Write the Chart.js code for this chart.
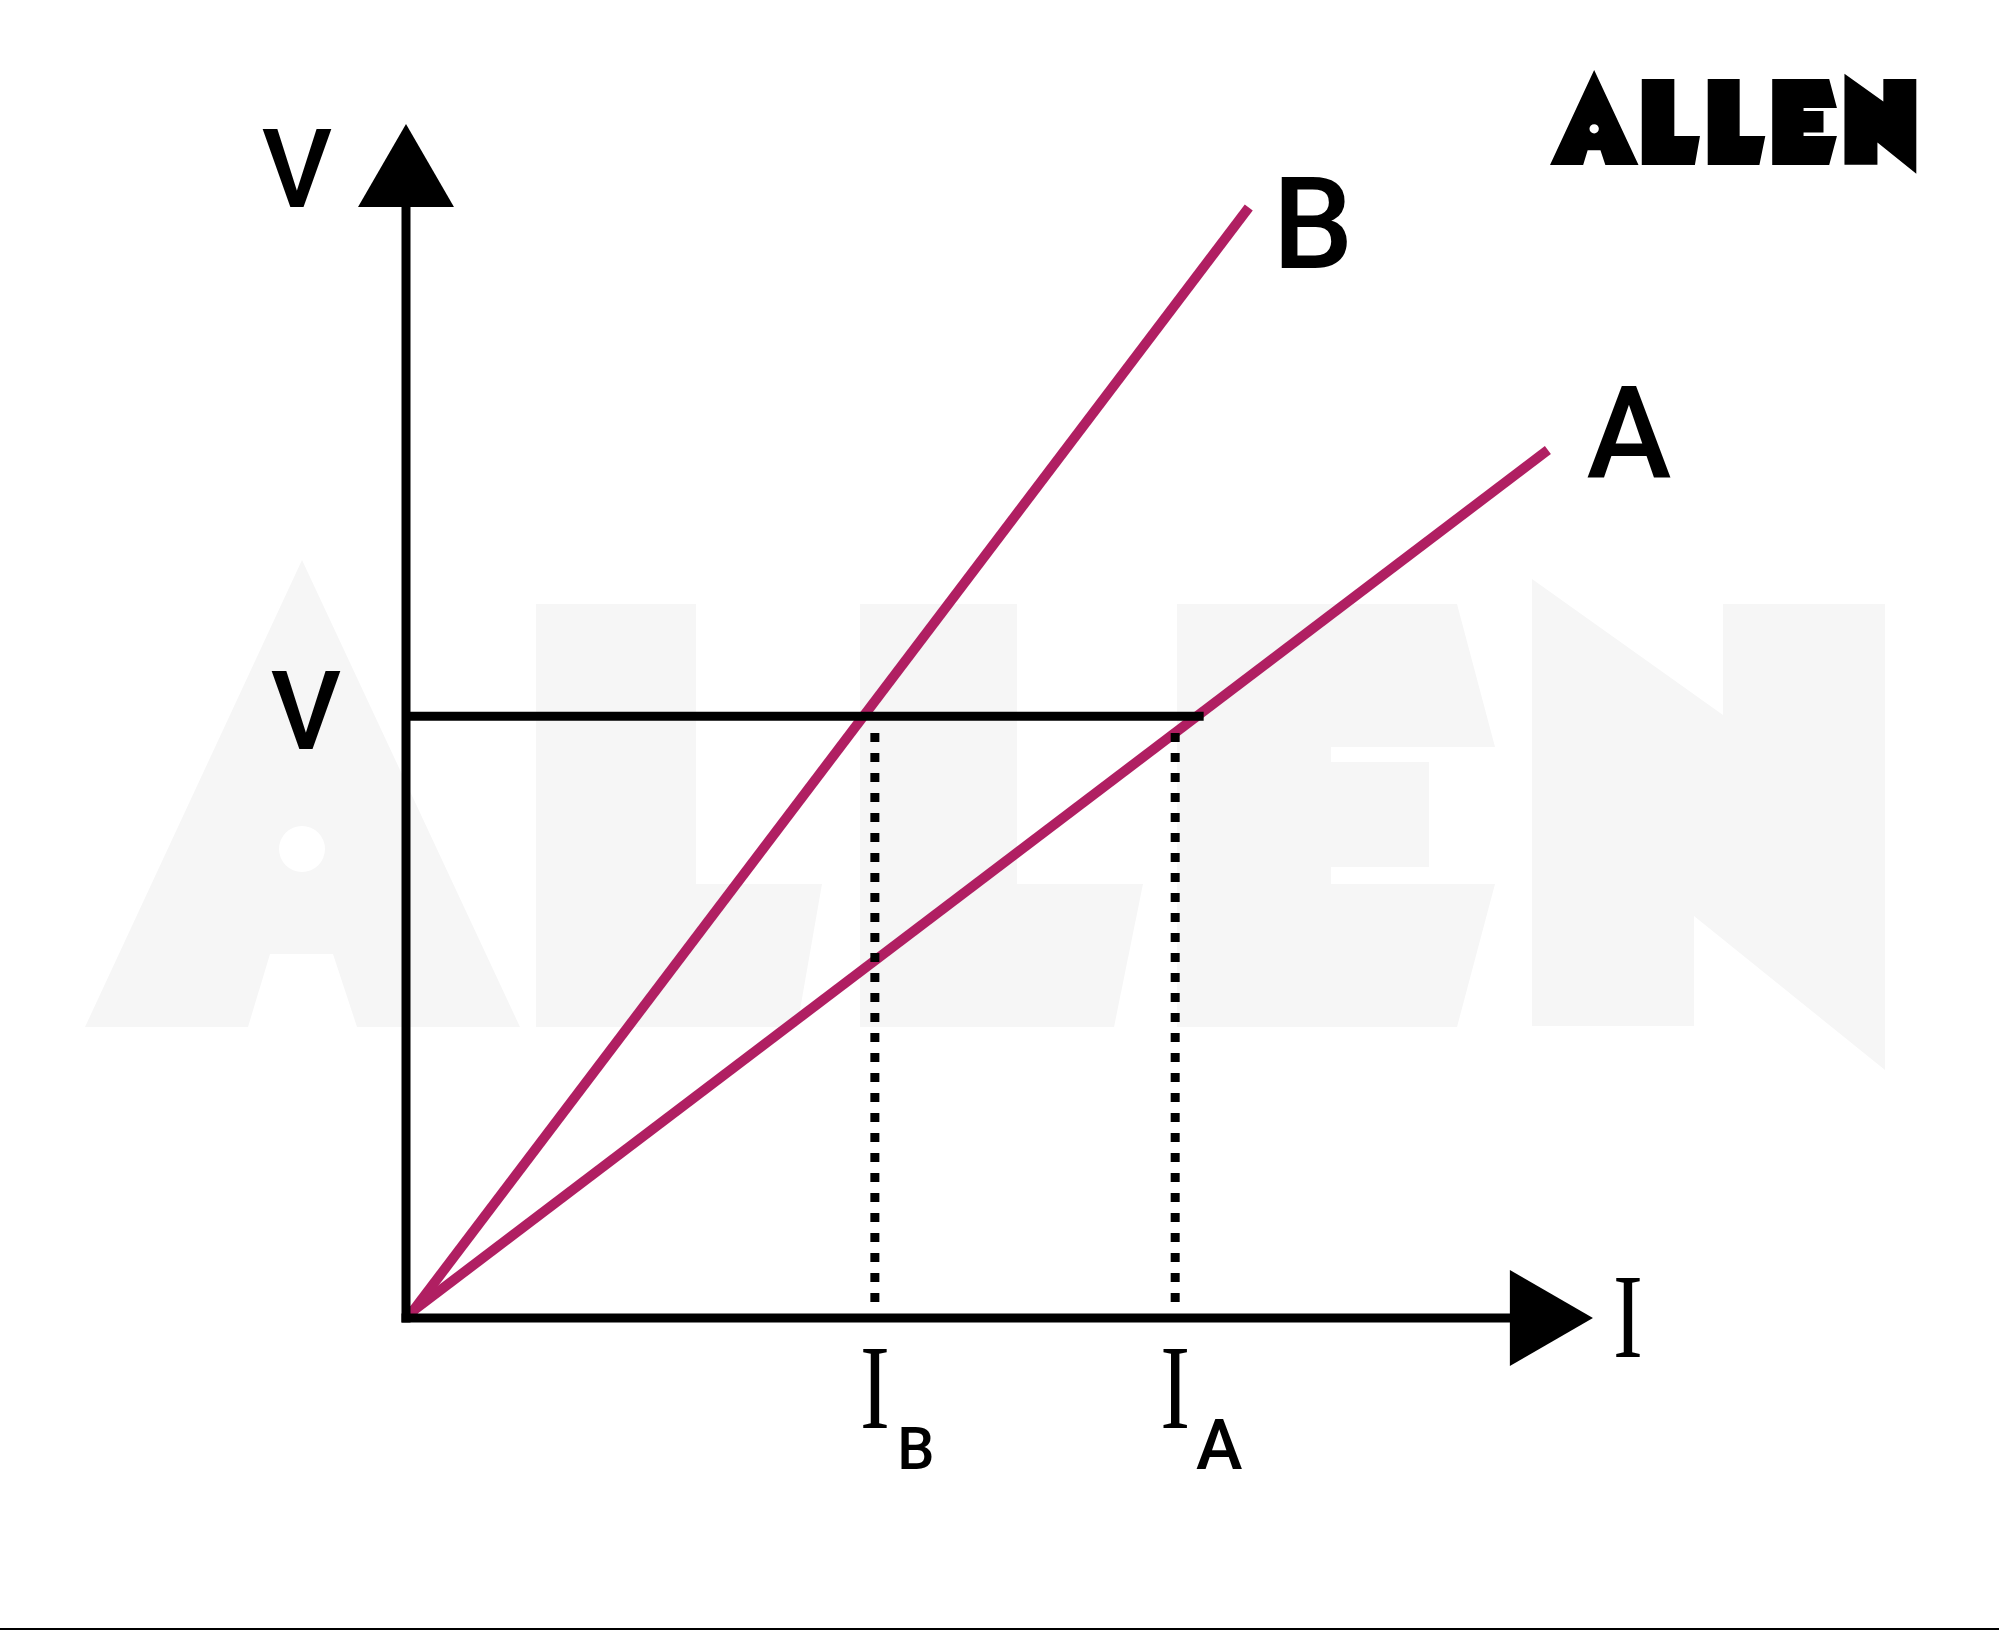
<!DOCTYPE html>
<html><head><meta charset="utf-8">
<script src="https://cdn.jsdelivr.net/npm/chart.js@4.4.1/dist/chart.umd.min.js"></script>
<style>
html,body{margin:0;padding:0;background:#fff;}
#wrap{width:1999px;height:1628px;border-bottom:2px solid #000;}
canvas{display:block;}
</style></head><body>
<div id="wrap"><canvas id="c" width="1999" height="1628"></canvas></div>
<script>
// ---- data (arbitrary units: I on x, V on y) ----
const lineB_I = [0.6, 71.0];
const lineB_V = [0.6, 93.0];
const lineA_I = [0.6, 96.2];
const lineA_V = [0.6, 72.7];
const levelV = 50.4;              // common voltage V
const levelLine_I = [0, 67.2];    // extent of the horizontal V line
const currents = [39.5, 64.8];    // I_B, I_A
const dropV = [49.0, 0.9];        // dotted drop lines (top, bottom)
const yAxis_V = [0, 94];
const xAxis_I = [0, 93.5];
const yArrow = {x: 0, y: 95.36};
const xArrow = {x: 95.33, y: 0};

// ---- text ----
const axisLabelY = 'V';
const levelLabel = 'V';
const axisLabelX = 'I';
const lineLabels = ['B', 'A'];
const currentLabels = ['I', 'I'];
const currentSubs = ['B', 'A'];

const MAGENTA = '#B01F62';
const SANS = 'Roboto, "Open Sans", sans-serif';
const pts = (xs, ys) => xs.map((v, i) => ({x: v, y: ys[i]}));

// ALLEN logo shapes (in watermark pixel frame)
const logoPolys = [
  [[302,560],[520,1027],[357,1027],[333,954],[270,954],[248,1027],[85,1027]],
  [[536,604],[696,604],[696,884],[822,884],[797,1027],[536,1027]],
  [[860,604],[1017,604],[1017,884],[1143,884],[1114,1027],[860,1027]],
  [[1177,604],[1457,604],[1495,747],[1331,747],[1331,762],[1429,762],[1429,867],[1331,867],[1331,884],[1495,884],[1457,1027],[1177,1027]],
  [[1532,579],[1723,715],[1723,604],[1885,604],[1885,1070],[1694,916],[1694,1026],[1532,1026]]
];
function drawLogo(ctx, tx, ty, s, color){
  ctx.save();
  ctx.fillStyle = color;
  ctx.beginPath();
  logoPolys.forEach(poly => {
    poly.forEach((p, i) => {
      const X = (p[0]-85)*s + tx, Y = (p[1]-560)*s + ty;
      if (i === 0) ctx.moveTo(X, Y); else ctx.lineTo(X, Y);
    });
    ctx.closePath();
  });
  const hx = (302-85)*s + tx, hy = (849-560)*s + ty, hr = 23*s;
  ctx.moveTo(hx + hr, hy);
  ctx.arc(hx, hy, hr, 0, Math.PI*2, true);
  ctx.closePath();
  ctx.fill('evenodd');
  ctx.restore();
}

const decoPlugin = {
  id: 'deco',
  beforeDatasetsDraw(chart){
    drawLogo(chart.ctx, 85, 560, 1, '#F6F6F6');
  },
  afterDatasetsDraw(chart){
    const {ctx} = chart;
    const x = chart.scales.x, y = chart.scales.y;
    drawLogo(ctx, 1550, 70, 0.2035, '#000');
    ctx.save();
    ctx.fillStyle = '#000';
    ctx.textAlign = 'center';
    ctx.textBaseline = 'alphabetic';
    ctx.font = '500 109px ' + SANS;
    ctx.fillText(axisLabelY, 297, 207);
    ctx.fillText(levelLabel, 306, y.getPixelForValue(levelV) + 33);
    ctx.font = '500 128px ' + SANS;
    ctx.fillText(lineLabels[0], 1313, 268);
    ctx.fillText(lineLabels[1], 1629, 477);
    const serifI = (t, cx, base) => {
      ctx.save();
      ctx.translate(cx, base);
      ctx.scale(0.74, 1);
      ctx.font = '121px "Liberation Serif"';
      ctx.fillText(t, 0, 0);
      ctx.restore();
    };
    serifI(axisLabelX, 1628, 1357);
    currents.forEach((c, i) => {
      serifI(currentLabels[i], x.getPixelForValue(c), 1428);
    });
    ctx.font = '500 59px ' + SANS;
    ctx.fillText(currentSubs[0], x.getPixelForValue(currents[0]) + 41, 1469);
    ctx.font = '500 70px ' + SANS;
    ctx.fillText(currentSubs[1], x.getPixelForValue(currents[1]) + 44, 1469);
    ctx.restore();
  }
};

const lineDS = (data, color, width, extra) => Object.assign({
  data, showLine: true, borderColor: color, borderWidth: width,
  pointRadius: 0, clip: false, borderCapStyle: 'butt', tension: 0
}, extra || {});

const datasets = [
  lineDS(pts([0,0], yAxis_V), '#000', 9, {borderCapStyle: 'square'}),
  lineDS(pts(xAxis_I, [0,0]), '#000', 9, {borderCapStyle: 'square'}),
  lineDS(pts(levelLine_I, [levelV, levelV]), '#000', 9),
  lineDS(pts([currents[0], currents[0]], dropV), '#000', 9, {borderDash: [9, 11]}),
  lineDS(pts([currents[1], currents[1]], dropV), '#000', 9, {borderDash: [9, 11]}),
  lineDS(pts(lineB_I, lineB_V), MAGENTA, 10, {pointRadius: [5, 0], pointBackgroundColor: MAGENTA, pointBorderWidth: 0}),
  lineDS(pts(lineA_I, lineA_V), MAGENTA, 10, {pointRadius: [5, 0], pointBackgroundColor: MAGENTA, pointBorderWidth: 0}),
  {data: [yArrow], showLine: false, pointStyle: 'triangle', pointRadius: 55.4, pointRotation: 0,
   pointBackgroundColor: '#000', pointBorderWidth: 0, clip: false},
  {data: [xArrow], showLine: false, pointStyle: 'triangle', pointRadius: 55.4, pointRotation: 90,
   pointBackgroundColor: '#000', pointBorderWidth: 0, clip: false}
];

new Chart(document.getElementById('c'), {
  type: 'scatter',
  data: {datasets},
  options: {
    responsive: false,
    animation: false,
    devicePixelRatio: 1,
    events: [],
    layout: {padding: {left: 406, right: 406, top: 124, bottom: 310}},
    plugins: {legend: {display: false}, tooltip: {enabled: false}},
    scales: {
      x: {type: 'linear', min: 0, max: 100, display: false},
      y: {type: 'linear', min: 0, max: 100, display: false}
    }
  },
  plugins: [decoPlugin]
});
</script>
</body></html>
